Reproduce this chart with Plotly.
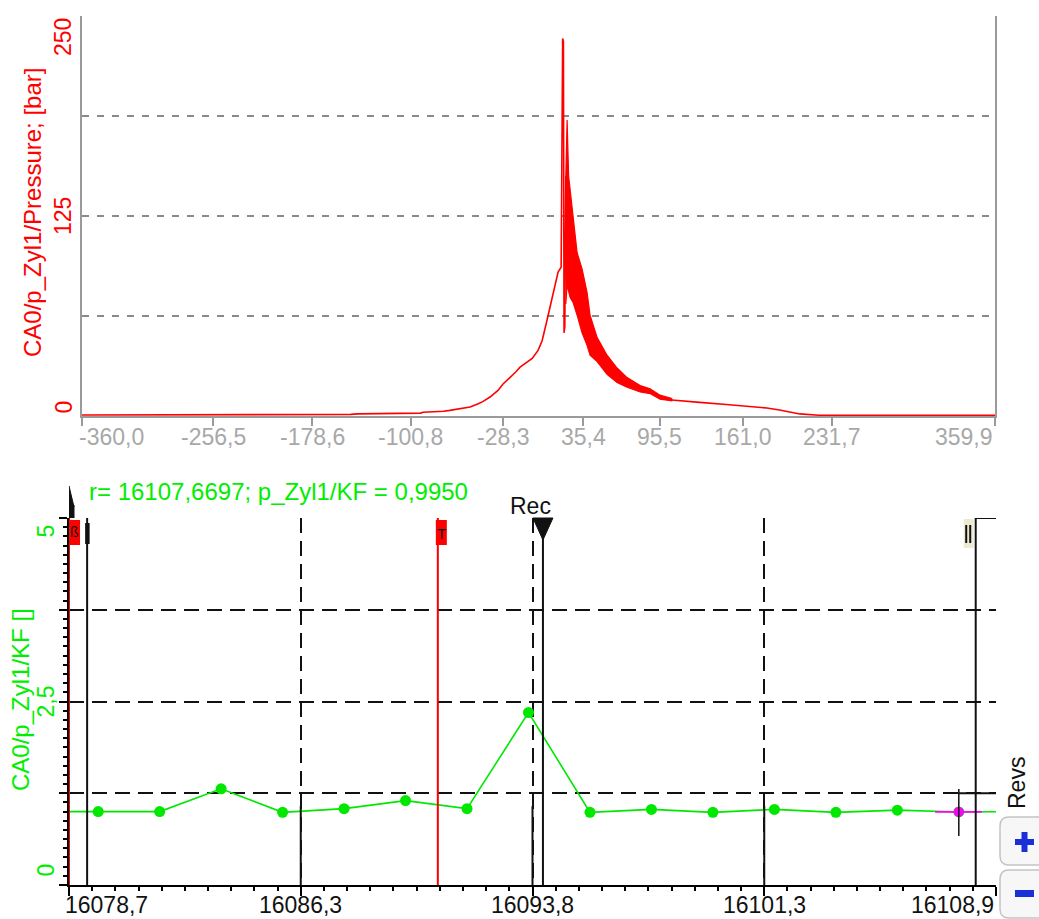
import plotly.graph_objects as go

W, H = 1039, 919

# ---------------- data: top chart (crank angle vs cylinder pressure) ----------------
pre_angle = [-360.0, -250.0, -150.0, -148.0, -143.0, -120.0, -93.0, -91.0, -80.0, -75.0, -70.0,
             -65.0, -60.0, -54.0, -48.0, -44.0, -38.0, -32.0, -28.0, -22.5, -18.0, -14.6, -10.0,
             -5.0, -0.4, 2.8, 6.7, 9.0, 13.0, 15.4, 17.8]
pre_p = [0.6, 0.6, 0.6, 1.0, 1.3, 1.5, 1.8, 2.3, 2.6, 3.0, 3.5,
         4.2, 4.9, 5.6, 7.5, 9.0, 12.0, 16.0, 20.0, 24.0, 27.5, 30.5, 33.0,
         36.0, 41.0, 47.0, 60.0, 68.0, 83.0, 90.0, 93.0]
spike_angle = [18.4, 19.0, 19.6, 20.1, 20.7, 21.5]
spike_p = [150, 236, 234, 52, 56, 150]
band_angle = [21.5, 22.5, 23.7, 24.9, 27.2, 30.4, 34.3, 38.3, 40.6, 46.2, 54.0, 61.9, 69.8,
              80.1, 87.9, 95.8, 105.0]
band_upper = [150, 185, 150, 142, 124, 102, 92, 77, 63, 49, 38, 30, 24, 19, 17, 13, 11]
band_lower = [70, 82, 78, 74, 71, 63, 52, 44, 38, 34, 26, 21, 18, 15, 14, 10.5, 9.5]
tail_angle = [105.0, 115.0, 127.0, 148.0, 169.0, 180.0, 190.0, 200.0, 206.0, 221.0, 300.0, 359.9]
tail_p = [10.0, 9.2, 8.5, 7.2, 6.0, 5.0, 3.8, 2.3, 1.3, 0.5, 0.5, 0.5]

top_xticks = [-360.0, -256.5, -178.6, -100.8, -28.3, 35.4, 95.5, 161.0, 231.7, 359.9]
top_xlabels = ["-360,0", "-256,5", "-178,6", "-100,8", "-28,3", "35,4", "95,5", "161,0", "231,7", "359,9"]
top_yticks = [0, 125, 250]
top_ylabels = ["0", "125", "250"]
top_ygrid = [0, 62.5, 125, 187.5, 250]

# ---------------- data: bottom chart (revolution vs knock factor) ----------------
revs = [16077.67, 16079.67, 16081.67, 16083.67, 16085.67, 16087.67, 16089.67, 16091.67,
        16093.67, 16095.67, 16097.67, 16099.67, 16101.67, 16103.67, 16105.67, 16107.67, 16109.67]
kf = [1.0, 1.0, 1.0, 1.31, 0.99, 1.04, 1.15, 1.04, 2.35, 0.99, 1.03, 0.99, 1.03, 0.99, 1.02, 0.995, 1.0]

bot_xticks = [16078.72, 16086.26, 16093.80, 16101.34, 16108.88]
bot_xlabels = ["16078,7", "16086,3", "16093,8", "16101,3", "16108,9"]
bot_yticks = [0, 2.5, 5]
bot_ylabels = ["0", "2,5", "5"]
bot_ygrid = [0, 1.25, 2.5, 3.75, 5]

cursor_rev = 16107.67
cursor_kf = 0.995
cursor_text = "r= 16107,6697; p_Zyl1/KF = 0,9950"
mark_start = 16078.72   # red "ß" marker
mark_one = 16079.31     # black "I" marker
mark_trig = 16090.72    # red "T" marker
mark_rec = 16094.14     # "Rec" marker
mark_two = 16108.22     # "II" marker

# ---------------- styles ----------------
FONT = "Liberation Sans, Arial, sans-serif"
RED = "#ff0000"
GREEN = "#00e800"
GTEXT = "#00ee00"
GRAY = "#9a9a9a"
FS = 23


def X(p):
    return p / W


def Y(p):
    return 1 - p / H


fig = go.Figure()

# top chart traces
fig.add_trace(go.Scatter(x=pre_angle + spike_angle, y=pre_p + spike_p, mode="lines",
                         line=dict(color=RED, width=1.6), xaxis="x", yaxis="y", hoverinfo="skip"))
fig.add_trace(go.Scatter(x=band_angle + band_angle[::-1], y=band_upper + band_lower[::-1],
                         mode="lines", fill="toself", fillcolor=RED,
                         line=dict(color=RED, width=1.2), xaxis="x", yaxis="y", hoverinfo="skip"))
fig.add_trace(go.Scatter(x=tail_angle, y=tail_p, mode="lines",
                         line=dict(color=RED, width=1.6), xaxis="x", yaxis="y", hoverinfo="skip"))

# bottom chart traces
fig.add_trace(go.Scatter(x=revs, y=kf, mode="lines+markers",
                         line=dict(color=GREEN, width=1.6),
                         marker=dict(color=GREEN, size=11), xaxis="x2", yaxis="y2",
                         cliponaxis=True, hoverinfo="skip"))
fig.add_trace(go.Scatter(x=[cursor_rev - 0.77, cursor_rev, cursor_rev + 0.75],
                         y=[cursor_kf, cursor_kf, cursor_kf], mode="lines",
                         line=dict(color="#ff00ff", width=1.8), xaxis="x2", yaxis="y2",
                         hoverinfo="skip"))
fig.add_trace(go.Scatter(x=[cursor_rev], y=[cursor_kf], mode="markers",
                         marker=dict(color="#ff00ff", size=10), xaxis="x2", yaxis="y2",
                         hoverinfo="skip"))

layout = dict(
    width=W, height=H, margin=dict(l=0, r=0, t=0, b=0),
    paper_bgcolor="white", plot_bgcolor="white", showlegend=False,
    font=dict(family=FONT, size=FS),
    xaxis=dict(domain=[X(82), X(995)], range=[-360, 359.9], anchor="y",
               showline=True, linecolor=GRAY, linewidth=2,
               ticks="outside", tickcolor=GRAY, tickwidth=2, ticklen=8,
               tickmode="array", tickvals=top_xticks, showticklabels=False,
               showgrid=False, zeroline=False),
    yaxis=dict(domain=[Y(416), Y(16)], range=[0, 250], anchor="x",
               showline=True, mirror=True, linecolor=GRAY, linewidth=2,
               ticks="", tickmode="array", tickvals=top_ygrid, showticklabels=False,
               showgrid=True, gridcolor="#8a8a8a", gridwidth=1.5, griddash="7px,8px",
               zeroline=False),
    xaxis2=dict(domain=[X(69), X(996)], range=[bot_xticks[0], bot_xticks[-1]], anchor="y2",
                showline=True, linecolor="black", linewidth=2,
                ticks="outside", tickcolor="black", tickwidth=2, ticklen=9,
                tickmode="array", tickvals=bot_xticks, showticklabels=False,
                showgrid=True, gridcolor="#111", gridwidth=2, griddash="15px,8px",
                zeroline=False,
                minor=dict(tickmode="linear", tick0=bot_xticks[0],
                           dtick=(bot_xticks[-1] - bot_xticks[0]) / 40,
                           ticks="outside", ticklen=4, tickwidth=1.5, tickcolor="black",
                           showgrid=False)),
    yaxis2=dict(domain=[Y(885), Y(518)], range=[0, 5], anchor="x2",
                showline=True, linecolor="black", linewidth=2,
                ticks="outside", tickcolor="black", tickwidth=2, ticklen=8,
                tickmode="array", tickvals=bot_ygrid, showticklabels=False,
                showgrid=True, gridcolor="#111", gridwidth=2, griddash="15px,8px",
                zeroline=False,
                minor=dict(tickmode="linear", tick0=0, dtick=0.125,
                           ticks="outside", ticklen=4, tickwidth=1.5, tickcolor="black",
                           showgrid=False)),
)
fig.update_layout(**layout)

ann = []
# top x tick labels
for i, (v, t) in enumerate(zip(top_xticks, top_xlabels)):
    xa = "left" if i == 0 else ("right" if i == len(top_xticks) - 1 else "center")
    ann.append(dict(x=v, xref="x", y=Y(437), yref="paper", text=t, showarrow=False,
                    xanchor=xa, yanchor="middle", xshift=(-5 if i == 0 else 0),
                    font=dict(color="#a8a8a8", size=FS)))
# top y tick labels
for i, (v, t) in enumerate(zip(top_yticks, top_ylabels)):
    ya = "bottom" if i == 0 else ("top" if i == len(top_yticks) - 1 else "middle")
    ann.append(dict(x=X(63), xref="paper", y=v, yref="y", text=t, showarrow=False,
                    textangle=-90, xanchor="center", yanchor=ya,
                    font=dict(color=RED, size=FS)))
# bottom x tick labels
for i, (v, t) in enumerate(zip(bot_xticks, bot_xlabels)):
    xa = "left" if i == 0 else ("right" if i == len(bot_xticks) - 1 else "center")
    ann.append(dict(x=v, xref="x2", y=Y(905), yref="paper", text=t, showarrow=False,
                    xanchor=xa, yanchor="middle", xshift=(-6 if i == 0 else 0),
                    font=dict(color="#111", size=FS)))
# bottom y tick labels
for i, (v, t) in enumerate(zip(bot_yticks, bot_ylabels)):
    ya = "bottom" if i == 0 else ("top" if i == len(bot_yticks) - 1 else "middle")
    ys = 6 if i == 0 else (-5 if i == len(bot_yticks) - 1 else 0)
    ann.append(dict(x=X(45), xref="paper", y=v, yref="y2", text=t, showarrow=False,
                    textangle=-90, xanchor="center", yanchor=ya, yshift=ys,
                    font=dict(color=GTEXT, size=FS)))
# axis titles and texts
ann.append(dict(x=X(33), xref="paper", y=Y(213), yref="paper", text="CA0/p_Zyl1/Pressure; [bar]",
                showarrow=False, textangle=-90, xanchor="center", yanchor="middle",
                font=dict(color=RED, size=FS + 1)))
ann.append(dict(x=X(20), xref="paper", y=Y(700), yref="paper", text="CA0/p_Zyl1/KF []",
                showarrow=False, textangle=-90, xanchor="center", yanchor="middle",
                font=dict(color=GTEXT, size=FS + 1)))
ann.append(dict(x=X(87), xref="paper", y=Y(492), yref="paper", text=cursor_text,
                showarrow=False, xanchor="left", yanchor="middle",
                font=dict(color=GTEXT, size=FS + 1)))
ann.append(dict(x=X(530), xref="paper", y=Y(506), yref="paper", text="Rec",
                showarrow=False, xanchor="center", yanchor="middle",
                font=dict(color="#111", size=FS)))
ann.append(dict(x=X(1017), xref="paper", y=Y(783), yref="paper", text="Revs",
                showarrow=False, textangle=-90, xanchor="center", yanchor="middle",
                font=dict(color="#111", size=FS)))
ann.append(dict(x=mark_start, xref="x2", xshift=5, y=Y(532), yref="paper", text="ß",
                showarrow=False, xanchor="center", yanchor="middle",
                font=dict(color="#111", size=14)))
ann.append(dict(x=mark_trig, xref="x2", xshift=3.5, y=Y(533), yref="paper", text="T",
                showarrow=False, xanchor="center", yanchor="middle",
                font=dict(color="#111", size=15)))
fig.update_layout(annotations=ann)

shapes = []


def vline(xv, color, dash="solid", width=2, top=1.0, bottom=0.0):
    shapes.append(dict(type="line", xref="x2", yref="y2 domain", x0=xv, x1=xv,
                       y0=bottom, y1=top, line=dict(color=color, width=width, dash=dash),
                       layer="above"))


# solid lower parts of the vertical grid lines
for v in bot_xticks[1:-1]:
    vline(v, "#111", top=0.215)
# marker lines
vline(mark_start, RED)
vline(mark_one, "#111")
vline(mark_trig, RED)
shapes.append(dict(type="line", xref="x2", yref="paper", x0=mark_rec, x1=mark_rec,
                   y0=Y(885), y1=Y(530), line=dict(color="#111", width=2), layer="above"))
vline(mark_two, "#111")
# solid top border segment right of marker II
shapes.append(dict(type="line", xref="x2", yref="y2", x0=mark_two, x1=bot_xticks[-1],
                   y0=5, y1=5, line=dict(color="#111", width=2), layer="above"))
# tags
shapes.append(dict(type="rect", xref="x2", xsizemode="pixel", xanchor=mark_start, x0=-1, x1=11,
                   yref="paper", y0=Y(545), y1=Y(520), fillcolor=RED, line=dict(width=0),
                   layer="above"))
shapes.append(dict(type="rect", xref="x2", xsizemode="pixel", xanchor=mark_trig, x0=-2, x1=9,
                   yref="paper", y0=Y(545), y1=Y(520), fillcolor=RED, line=dict(width=0),
                   layer="above"))
shapes.append(dict(type="rect", xref="x2", xsizemode="pixel", xanchor=mark_one, x0=-2, x1=2.5,
                   yref="paper", y0=Y(544), y1=Y(523), fillcolor="#111", line=dict(width=0),
                   layer="above"))
shapes.append(dict(type="rect", xref="x2", xsizemode="pixel", xanchor=mark_two, x0=-12, x1=-2,
                   yref="paper", y0=Y(548), y1=Y(519), fillcolor="#eeead2", line=dict(width=0),
                   layer="above"))
for dx in (-9.5, -5.5):
    shapes.append(dict(type="line", xref="x2", xsizemode="pixel", xanchor=mark_two, x0=dx, x1=dx,
                       yref="paper", y0=Y(543), y1=Y(525), line=dict(color="#111", width=2),
                       layer="above"))
# Rec triangle
shapes.append(dict(type="path", xref="x2", xsizemode="pixel", xanchor=mark_rec, yref="paper",
                   path=f"M -10,{Y(518)} L 10,{Y(518)} L 0,{Y(540)} Z",
                   fillcolor="#111", line=dict(color="#111", width=1), layer="above"))
# start arrow above plot
shapes.append(dict(type="path", xref="x2", xsizemode="pixel", xanchor=mark_start, yref="paper",
                   path=f"M 0,{Y(486)} L -5,{Y(507)} L 5,{Y(507)} Z",
                   fillcolor="#111", line=dict(color="#111", width=1), layer="above"))
shapes.append(dict(type="rect", xref="x2", xsizemode="pixel", xanchor=mark_start, x0=-5.5, x1=5.5,
                   yref="paper", y0=Y(518), y1=Y(505), fillcolor="#111", line=dict(width=0),
                   layer="above"))
# cursor cross
shapes.append(dict(type="line", xref="x2", yref="y2", ysizemode="pixel", yanchor=cursor_kf,
                   x0=cursor_rev, x1=cursor_rev, y0=-24, y1=23,
                   line=dict(color="#111", width=1.5), layer="above"))
shapes.append(dict(type="line", xref="x2", yref="y2", x0=cursor_rev, x1=bot_xticks[-1],
                   y0=1.25, y1=1.25, line=dict(color="#111", width=2), layer="above"))


def rrect(x0, y0, x1, y1, r):
    return (f"M {X(x0 + r)},{Y(y0)} L {X(x1 - r)},{Y(y0)} Q {X(x1)},{Y(y0)} {X(x1)},{Y(y0 + r)} "
            f"L {X(x1)},{Y(y1 - r)} Q {X(x1)},{Y(y1)} {X(x1 - r)},{Y(y1)} "
            f"L {X(x0 + r)},{Y(y1)} Q {X(x0)},{Y(y1)} {X(x0)},{Y(y1 - r)} "
            f"L {X(x0)},{Y(y0 + r)} Q {X(x0)},{Y(y0)} {X(x0 + r)},{Y(y0)} Z")


# +/- buttons
for (a, b) in ((817, 865), (870, 918)):
    shapes.append(dict(type="path", xref="paper", yref="paper", path=rrect(1000, a, 1050, b, 9),
                       fillcolor="#f7f7f7", line=dict(color="#c4c4c4", width=1.5), layer="above"))
BLUE = "#1a2fd8"
shapes.append(dict(type="rect", xref="paper", yref="paper", x0=X(1015), x1=X(1034),
                   y0=Y(845), y1=Y(839), fillcolor=BLUE, line=dict(width=0), layer="above"))
shapes.append(dict(type="rect", xref="paper", yref="paper", x0=X(1021.5), x1=X(1027.5),
                   y0=Y(852), y1=Y(832), fillcolor=BLUE, line=dict(width=0), layer="above"))
shapes.append(dict(type="rect", xref="paper", yref="paper", x0=X(1015), x1=X(1034),
                   y0=Y(897), y1=Y(890), fillcolor=BLUE, line=dict(width=0), layer="above"))

fig.update_layout(shapes=shapes)

fig.write_html("out.html", config={"displayModeBar": False})
